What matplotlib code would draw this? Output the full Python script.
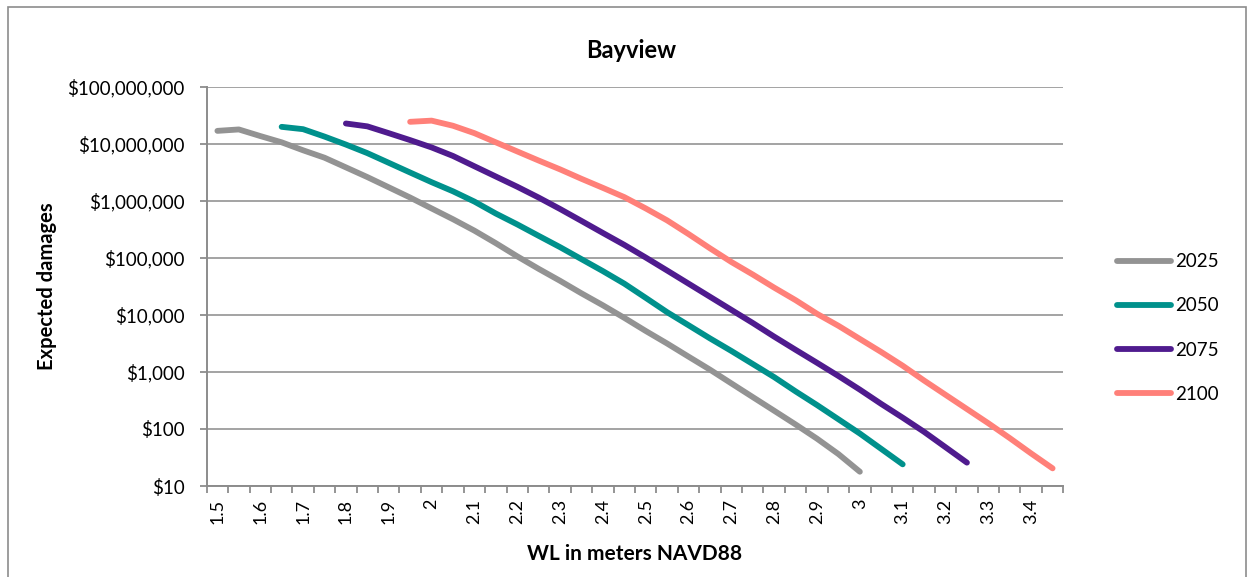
import numpy as np
import matplotlib
matplotlib.use('Agg')
import matplotlib.pyplot as plt
from matplotlib.patches import Rectangle
from matplotlib.ticker import FuncFormatter, FixedLocator

nan = np.nan

# water level categories (m NAVD88), one per Excel category
WL = [1.5, 1.55, 1.6, 1.65, 1.7, 1.75, 1.8, 1.85, 1.9, 1.95,
      2.0, 2.05, 2.1, 2.15, 2.2, 2.25, 2.3, 2.35, 2.4, 2.45,
      2.5, 2.55, 2.6, 2.65, 2.7, 2.75, 2.8, 2.85, 2.9, 2.95,
      3.0, 3.05, 3.1, 3.15, 3.2, 3.25, 3.3, 3.35, 3.4, 3.45]

# expected damages in $ (nan = no value for that water level)
dmg_2025 = [1.70e7, 1.80e7, 1.38e7, 1.07e7, 7.76e6, 5.75e6, 3.89e6, 2.63e6, 1.74e6, 1.15e6,
            741000, 479000, 302000, 182000, 107000, 64600, 39800, 24000, 14800, 8910,
            5250, 3160, 1860, 1100, 631, 363, 209, 120, 67.6, 36.3,
            17.8, nan, nan, nan, nan, nan, nan, nan, nan, nan]
dmg_2050 = [nan, nan, nan, 2.0e7, 1.82e7, 1.35e7, 9.77e6, 6.92e6, 4.68e6, 3.16e6,
            2.14e6, 1.48e6, 977000, 603000, 389000, 245000, 155000, 95500, 58900, 35500,
            20000, 11200, 6610, 3890, 2340, 1380, 813, 457, 263, 148,
            83.2, 44.7, 24.0, nan, nan, nan, nan, nan, nan, nan]
dmg_2075 = [nan, nan, nan, nan, nan, nan, 2.29e7, 2.04e7, 1.55e7, 1.17e7,
            8.71e6, 6.17e6, 4.07e6, 2.69e6, 1.78e6, 1.15e6, 724000, 447000, 275000, 170000,
            102000, 60300, 35500, 20900, 12300, 7240, 4170, 2450, 1450, 851,
            490, 275, 158, 89.1, 47.9, 25.7, nan, nan, nan, nan]
dmg_2100 = [nan, nan, nan, nan, nan, nan, nan, nan, nan, 2.45e7,
            2.57e7, 2.09e7, 1.55e7, 1.07e7, 7.41e6, 5.13e6, 3.59e6, 2.45e6, 1.70e6, 1.17e6,
            741000, 457000, 263000, 148000, 85100, 51300, 30200, 18200, 10500, 6460,
            3800, 2240, 1290, 708, 398, 224, 126, 69.2, 37.2, 20.4]

series = [('2025', dmg_2025, '#939393'),
          ('2050', dmg_2050, '#00918c'),
          ('2075', dmg_2075, '#4f1b8e'),
          ('2100', dmg_2100, '#ff8079')]

FONT = 'Lato'
plt.rcParams['font.family'] = [FONT, 'DejaVu Sans']

fig = plt.figure(figsize=(12.53, 5.77), dpi=100)
ax = fig.add_axes([206.7/1253, 1-486/577, (1063.3-206.7)/1253, (486-87)/577])

idx = np.arange(len(WL))
for name, vals, col in series:
    ax.plot(idx, vals, color=col, lw=4.2, label=name,
            solid_capstyle='round', solid_joinstyle='round', zorder=3)

ax.set_yscale('log')
ax.set_ylim(10, 1e8)
ax.set_xlim(-0.5, len(WL) - 0.5)
ax.yaxis.set_major_formatter(FuncFormatter(lambda v, p: '${:,.0f}'.format(v)))
ax.yaxis.set_minor_locator(FixedLocator([]))

# labels on every other category, tick marks between categories
lab_pos = idx[::2]
ax.xaxis.set_major_locator(FixedLocator(lab_pos))
ax.set_xticklabels(['%g' % WL[i] for i in lab_pos], rotation=90)
ax.xaxis.set_minor_locator(FixedLocator(np.arange(len(WL) + 1) - 0.5))
ax.tick_params(axis='x', which='major', length=0, pad=9, labelsize=13)
ax.tick_params(axis='x', which='minor', length=5, width=1.3, color='#8c8c8c')
ax.tick_params(axis='y', which='major', length=5, width=1.3, color='#8c8c8c',
               labelsize=13.5, pad=11)

ax.grid(axis='y', color='#a3a3a3', lw=1.4)
ax.set_axisbelow(True)
for s in ['top', 'right']:
    ax.spines[s].set_visible(False)
for s in ['left', 'bottom']:
    ax.spines[s].set_color('#8c8c8c')
    ax.spines[s].set_linewidth(1.4)

fig.text(631/1253, 1-50/577, 'Bayview', ha='center', va='center',
         fontsize=17, fontweight='bold')
fig.text(47/1253, 1-286/577, 'Expected damages', ha='center', va='center',
         rotation=90, fontsize=14.5, fontweight='bold')
fig.text(635/1253, 1-554/577, 'WL in meters NAVD88', ha='center', va='center',
         fontsize=15, fontweight='bold')

fig.legend(loc='center left', bbox_to_anchor=(1117/1253, 1-328/577),
           frameon=False, fontsize=13.5, handlelength=2.9, handletextpad=0.2,
           labelspacing=1.45, borderpad=0, borderaxespad=0)

fig.patches.append(Rectangle((8/1253, -0.1), 1238/1253, 1.1 - 7/577,
                             transform=fig.transFigure, fill=False,
                             edgecolor='#8c8c8c', lw=1.2))

fig.savefig('out.png', dpi=100)
